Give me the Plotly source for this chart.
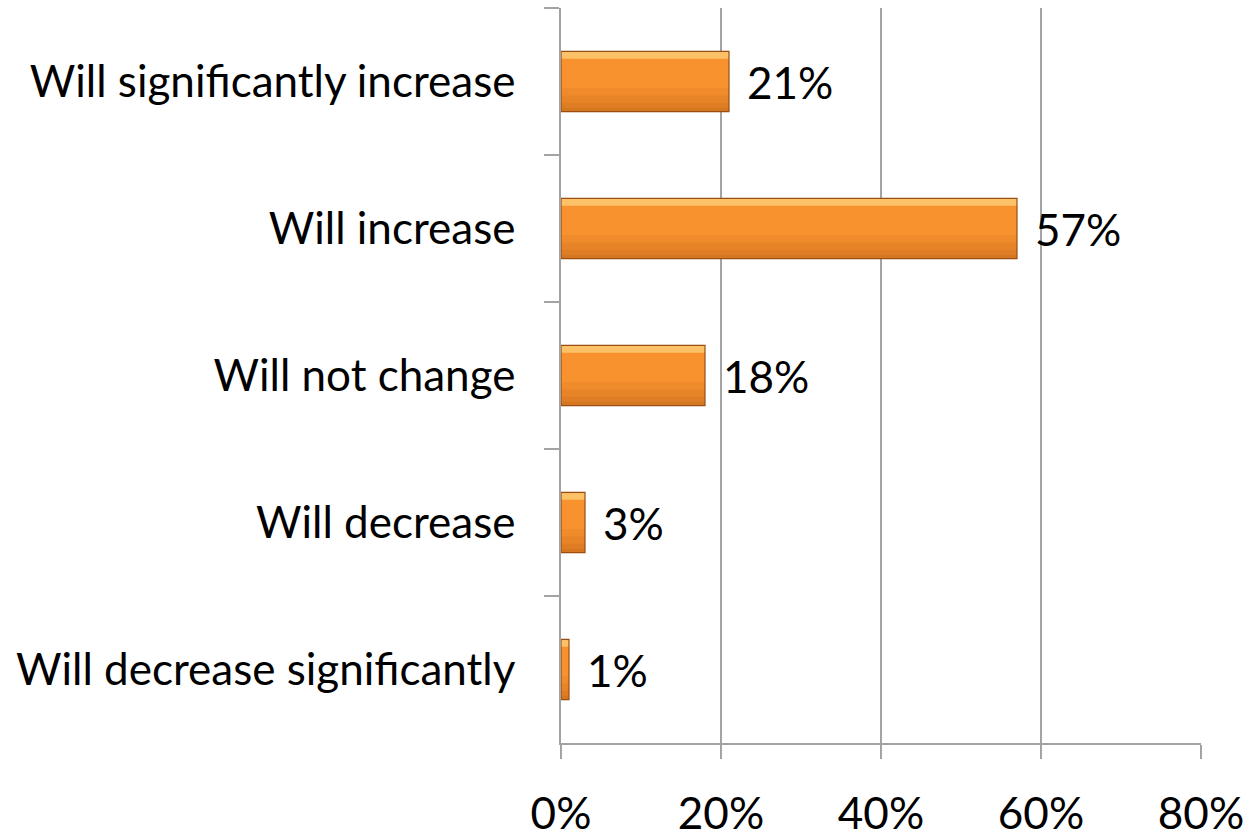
import plotly.graph_objects as go

# Survey answers, top to bottom as shown on the chart
categories = [
    "Will significantly increase",
    "Will increase",
    "Will not change",
    "Will decrease",
    "Will decrease significantly",
]
shares = [21, 57, 18, 3, 1]  # percent of respondents

x_ticks = [0, 20, 40, 60, 80]
x_tick_labels = ["0%", "20%", "40%", "60%", "80%"]

FONT = "Lato, Calibri, Carlito, sans-serif"
FONT_SIZE = 44
GRID = "#A3A3A3"
BAR_FILL = "#F8922E"
BAR_EDGE = "#9A4E12"
BAR_W = 0.41

fig = go.Figure()

# Base fill of each bar
fig.add_trace(go.Bar(
    x=shares, y=categories, orientation="h", width=BAR_W,
    marker=dict(color=BAR_FILL, line=dict(width=0)),
    hoverinfo="skip",
))
# Light bevel strip along the top edge
fig.add_trace(go.Bar(
    x=shares, y=categories, orientation="h",
    width=0.045, offset=-BAR_W / 2 + 0.005,
    marker=dict(color="rgba(255,214,130,0.7)", line=dict(width=0)),
    hoverinfo="skip",
))
# Soft darkening toward the bottom edge, built from overlapping bands
for band, alpha in [(0.16, 0.08), (0.11, 0.09), (0.06, 0.10), (0.025, 0.12)]:
    fig.add_trace(go.Bar(
        x=shares, y=categories, orientation="h",
        width=band, offset=BAR_W / 2 - band,
        marker=dict(color=f"rgba(150,70,10,{alpha})", line=dict(width=0)),
        hoverinfo="skip",
    ))
# Outline
fig.add_trace(go.Bar(
    x=shares, y=categories, orientation="h", width=BAR_W,
    marker=dict(color="rgba(0,0,0,0)", line=dict(color=BAR_EDGE, width=1.2)),
    hoverinfo="skip",
))

# Value labels to the right of each bar
for cat, val in zip(categories, shares):
    fig.add_annotation(
        x=val, y=cat, text=f"{val}%", showarrow=False,
        xanchor="left", yanchor="middle", xshift=16,
        font=dict(family=FONT, size=FONT_SIZE, color="#000000"),
    )

fig.update_layout(
    width=1251, height=839,
    margin=dict(l=561, r=50, t=8, b=96),
    paper_bgcolor="white", plot_bgcolor="white",
    showlegend=False, barmode="overlay",
    font=dict(family=FONT, size=FONT_SIZE, color="#000000"),
)

fig.update_xaxes(
    range=[0, 80], automargin=False,
    tickvals=x_ticks, ticktext=x_tick_labels,
    showgrid=True, gridcolor=GRID, gridwidth=1.5,
    zeroline=False,
    showline=True, linecolor=GRID, linewidth=1.5,
    ticks="outside", ticklen=14, tickcolor=GRID, tickwidth=1.5,
    ticklabelstandoff=17,
)

fig.update_yaxes(
    type="category", automargin=False,
    categoryorder="array", categoryarray=categories,
    autorange="reversed",
    showgrid=False, zeroline=False,
    showline=True, linecolor=GRID, linewidth=1.5,
    ticks="outside", ticklen=15, tickcolor=GRID, tickwidth=1.5,
    tickson="boundaries",
    ticklabelstandoff=35,
)

fig.write_html("out.html")
